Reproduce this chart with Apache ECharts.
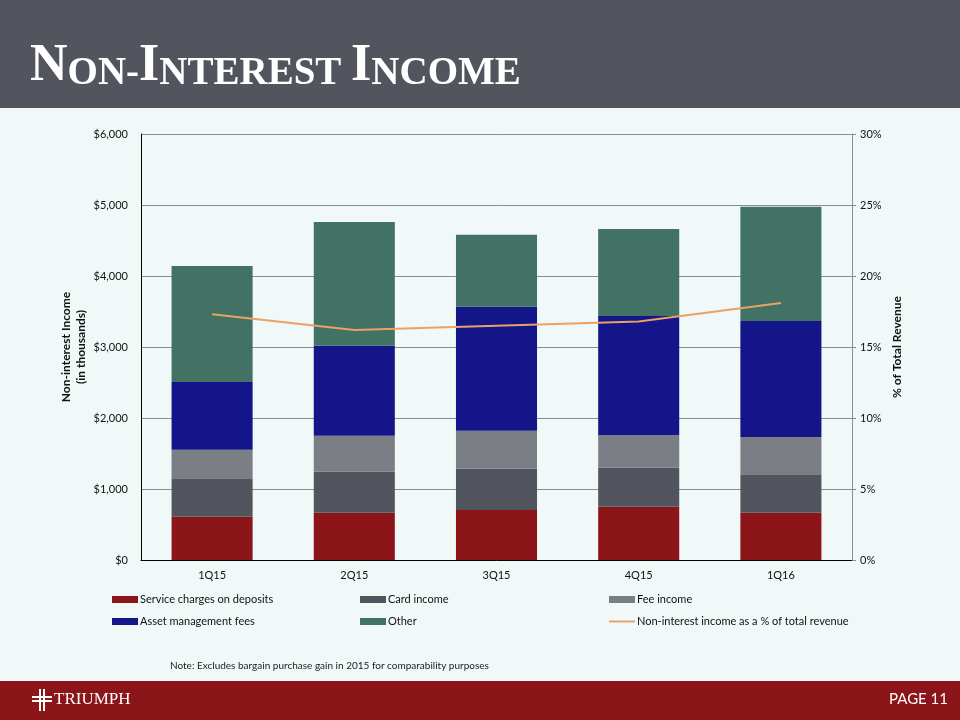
<!DOCTYPE html>
<html>
<head>
<meta charset="utf-8">
<script src="https://cdn.jsdelivr.net/npm/echarts@6/dist/echarts.min.js"></script>
<style>
html,body{margin:0;padding:0;background:#f0f8f8;}
#c{width:960px;height:720px;}
</style>
</head>
<body>
<div id="c"></div>
<script>
var categories = ['1Q15','2Q15','3Q15','4Q15','1Q16'];
var serviceCharges = [610, 666, 704, 751, 666];
var cardIncome = [531, 578, 582, 549, 531];
var feeIncome = [413, 507, 536, 461, 535];
var assetMgmt = [953, 1268, 1746, 1676, 1634];
var otherIncome = [1634, 1742, 1014, 1225, 1610];
var pctRevenue = [17.3, 16.2, 16.5, 16.8, 18.1];
var leftTicks = [0, 1000, 2000, 3000, 4000, 5000, 6000];
var rightTicks = [0, 5, 10, 15, 20, 25, 30];

var FONT = 'Lato';
var chart = echarts.init(document.getElementById('c'), null, {renderer:'canvas'});

function barSeries(name, data, color){
  return {name:name, type:'bar', stack:'total', data:data, barWidth:'57%',
    itemStyle:{color:color}, yAxisIndex:0, z:2};
}
function leg(name, left, top, isLine){
  return {data:[{name:name, icon:'rect'}], left:left, top:top, orient:'horizontal', padding:0,
    itemWidth:26, itemHeight:isLine?2:7, itemGap:0,
    textStyle:{fontFamily:FONT, fontSize:11, color:'#111', padding:[0,0,0,-3]},
    selectedMode:false};
}

var option = {
  backgroundColor:'#f0f8f8',
  animation:false,
  textStyle:{fontFamily:FONT},
  grid:{left:141, right:108, top:134, bottom:160, containLabel:false},
  xAxis:{type:'category', data:categories,
    axisLine:{lineStyle:{color:'#000', width:1}},
    axisTick:{show:false},
    axisLabel:{fontFamily:FONT, fontSize:11, color:'#111', margin:10}},
  yAxis:[{type:'value', min:leftTicks[0], max:leftTicks[leftTicks.length-1], interval:1000,
    position:'left',
    name:'Non-interest Income\n(in thousands)', nameLocation:'middle', nameRotate:90, nameGap:52,
    nameMoveOverlap:false,
    nameTextStyle:{fontFamily:FONT, fontSize:12, fontWeight:'bold', color:'#111', lineHeight:15},
    axisLine:{show:true, lineStyle:{color:'#000', width:1}},
    axisTick:{show:false},
    axisLabel:{fontFamily:FONT, fontSize:11, color:'#111', margin:13,
      formatter:function(v){return '$'+v.toLocaleString('en-US');}},
    splitLine:{show:true, lineStyle:{color:'#8a8d90', width:1}}},
   {type:'value', min:rightTicks[0], max:rightTicks[rightTicks.length-1], interval:5,
    position:'right',
    name:'% of Total Revenue', nameLocation:'middle', nameRotate:90, nameGap:39,
    nameMoveOverlap:false,
    nameTextStyle:{fontFamily:FONT, fontSize:12, fontWeight:'bold', color:'#111'},
    axisLine:{show:true, lineStyle:{color:'#8a8d90', width:1}},
    axisTick:{show:true, length:4, lineStyle:{color:'#8a8d90'}},
    axisLabel:{fontFamily:FONT, fontSize:11, color:'#111', margin:8,
      formatter:function(v){return v+'%';}},
    splitLine:{show:false}}],
  legend:[
    leg('Service charges on deposits', 112, 594, false),
    leg('Card income', 360, 594, false),
    leg('Fee income', 609, 594, false),
    leg('Asset management fees', 112, 616, false),
    leg('Other', 360, 616, false),
    leg('Non-interest income as a % of total revenue', 609, 616, true)
  ],
  series:[
    barSeries('Service charges on deposits', serviceCharges, '#8b1518'),
    barSeries('Card income', cardIncome, '#52555e'),
    barSeries('Fee income', feeIncome, '#7b7e85'),
    barSeries('Asset management fees', assetMgmt, '#131589'),
    barSeries('Other', otherIncome, '#427263'),
    {name:'Non-interest income as a % of total revenue', type:'line', yAxisIndex:1,
     data:pctRevenue, symbol:'none', showSymbol:false,
     lineStyle:{color:'#e9a264', width:2}, itemStyle:{color:'#e9a264'}, z:5}
  ],
  graphic:[
    {type:'rect', shape:{x:0,y:0,width:960,height:108}, style:{fill:'#52555e'}, z:-1},
    {type:'text', left:30, top:41, style:{
      text:'{a|N}{b|ON-}{a|I}{b|NTEREST }{a|I}{b|NCOME}',
      rich:{
        a:{fontFamily:'Liberation Serif', fontWeight:'bold', fontSize:52, fill:'#fff', verticalAlign:'bottom'},
        b:{fontFamily:'Liberation Serif', fontWeight:'bold', fontSize:39, fill:'#fff', verticalAlign:'bottom'}
      }}},
    {type:'text', left:170, top:661, style:{text:'Note: Excludes bargain purchase gain in 2015 for comparability purposes',
      fontFamily:FONT, fontSize:10, fill:'#222'}},
    {type:'rect', shape:{x:0,y:681,width:960,height:39}, style:{fill:'#8b1518'}},
    {type:'group', left:32, top:689, children:[
      {type:'rect', shape:{x:7,y:0,width:2,height:22}, style:{fill:'#fff'}},
      {type:'rect', shape:{x:11,y:0,width:2,height:22}, style:{fill:'#fff'}},
      {type:'rect', shape:{x:0,y:7,width:20,height:2}, style:{fill:'#fff'}},
      {type:'rect', shape:{x:0,y:11,width:20,height:2}, style:{fill:'#fff'}},
      {type:'text', x:22, y:2, style:{text:'TRIUMPH', fontFamily:'Liberation Serif', fontSize:17, fill:'#fff'}}
    ]},
    {type:'text', right:12, top:692, style:{text:'PAGE 11', fontFamily:FONT, fontSize:15, fill:'#fff'}}
  ]
};
chart.setOption(option);
</script>
</body>
</html>
